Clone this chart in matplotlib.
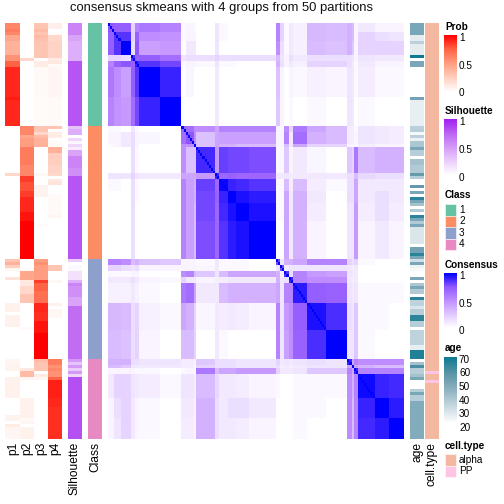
import numpy as np
import matplotlib
matplotlib.use("Agg")
import matplotlib.pyplot as plt
from matplotlib.colors import LinearSegmentedColormap, ListedColormap

plt.rcParams['font.family'] = ['Liberation Sans', 'DejaVu Sans']

title = "consensus skmeans with 4 groups from 50 partitions"
group_sizes = [35, 45, 34, 27]
class_colors = ["#66C2A5", "#FC8D62", "#8DA0CB", "#E78AC3"]
type_colors = ["#F4B79F", "#FFC4E4"]
type_labels = ["alpha", "PP"]

p1 = [.6,.6,.65,.6,.45,.45,.4,.4,.4,.4,.4,.55,.55,.75,.75]+[.9]*10+[.93]+[.9]*9 \
   + [0]*16+[.2]+[0]*28 \
   + [.3,.4,.25,.05,0,0,.15]+[0]*8+[.07,.07,.07,0,.07,.07,.07,.07]+[0]*11 \
   + [.05,.05,.06,.06,0,0,.07,.07,.07,.07,.07,.07,.07]+[0]*6+[.06,.06,0,.1,.05,.05,.05,.05]
p2 = [0]*12+[.2]+[0]*22 \
   + [.6,.6,.6,.45,.5,.5,.5,.65,.65,.65,.65,.65,.65,.6,.6,.6,.6,.85,.85,.8,.8,.8,.85,.85,.9,.9,.9,.9,.9,.95,.95,.95]+[1]*13 \
   + [0,0,0,.02,.45,.45,.45,.12,.12,.2,.2,.2,.3,.3,.3]+[0]*8+[.03]+[0]*10 \
   + [0,0,0,.12,.35,.35,.05]+[0]*6+[.07]*7+[.03,.05,0,.07,.07,.07,.07]
p3 = [.3,.3,.35,.3,.35,.32,.3,.3,.3,.3,.3,.3,0,.1,.1]+[.03]*10+[.02]*10 \
   + [.3,.3,.2,.35,.4,.4,.4]+[0]*9+[.04,0,0,0,.06,.06,.06,.06]+[0]*9+[.02]+[0]*11 \
   + [.5,.55,.5,.5,.5,.5,.5,.85,.75,.75,.75,.7,.7,.7,.7,.9,.9,.9,.88,.88,.88,.95,.95,.95,.95]+[1]*9 \
   + [.35,.3,.3,.3,0,.1,.05]+[0]*20
p4 = [.08,.08,0,.02,.2,.2,.22,.22,.22,.22,.22,.22,.1,.12,.03]+[.05]*10+[.03]*10 \
   + [.3,0,.1,.1,0,.02,.02,.4,.4,.25,.25,.25,.25,.22,.22,.22,.2,0,.12,.15,0,0,0,.03,.03,.03,.03,.03,.03,.03,.05]+[0]*14 \
   + [0,0,.3,.3,0,0,0,.04]+[0]*7+[.07,0,.04,.04,.04]+[0]*14 \
   + [.65,.65,.55,.6,.55,.55,.75,.92,.92,.92,.92,.92,.92,.9,.9,.9]+[.88]*11
sil = [.6,.6,.6,.6,.45,.45,.4,.4,.4,.4,.4,.4,.4,.8,.8]+[.8]*20 \
   + [.3,.4,.4,0,.2,.05,.2,.1,.45,.45,.6,.6,.6,.6,.55,.55,.55]+[.8]*28 \
   + [.25,0,.03,.03,.15,.15,.15,.4,.6,.55,.55,.55,.55,.45,.45,.45]+[.7]*18 \
   + [.5,.3,.5,.25,.5,.2]+[.82]*21
age = [50,50,50,50,26,26,35,26,26,26,26,70,20,50,50]+[20]*10+[52]+[25]*9 \
   + [35,36,22,35,24,38,38,50,36,36,20,40,40,37,37,37,55,36,20,20,55,20,50,20,65,50,40,20,37,20,65,50,37,50,28,28,28,28,28,28,20,52,52,65,50] \
   + [30,50,24,22,20,20,50,20,38,50,37,37,20,65,34,34,28,36,36,65,65,36,36,20,34,34,34,34,34,25,25,67,67,67] \
   + [20,40,60,36,36,40,50,20,20,20,36,50,36,36]+[48]*13
cell_type = [0]*35+[0]*45+[0]*34+[0,0,0,0,1,0,0,1]+[0]*19

seg_sizes = [3,3,5,2,2,10,10, 2,4,1,9,2,4,4,6,13, 2,2,2,2,7,9,10, 2,1,2,8,7,7]
seg_upper = [
 [.75,.72,.72,.2,.55,.6,.55, .03,.05,.03,0,.12,.03,0,0,0, .55,.2,.03,.1,.07,.32,.3, .35,.3,.05,.1,.05,.05],
 [.85,.85,.2,.7,.5,.48, .03,.05,.05,0,.12,.03,0,0,0, .55,.2,.03,.1,.07,.32,.3, .35,.3,.05,.2,.15,.12],
 [1,.15,.75,.42,.45, 0,.1,.1,0,.12,0,0,0,0, .5,.15,.03,.1,.07,.3,.28, .35,.25,.05,.2,.2,.2],
 [.85,.7,.72,.65, .12,.15,.15,.15,.2,.15,.15,.15,.15, .3,.12,.05,.15,.1,.15,.15, .15,.12,.05,.12,.1,.1],
 [.9,.85,.8, .03,.05,.05,.03,.12,.03,.03,0,0, .35,.15,.05,.1,.07,.2,.2, .15,.1,.03,.1,.05,.05],
 [1,.9, 0,.04,0,0,.1,0,0,0,0, .28,.05,0,.05,.03,.07,.05, .12,.1,.03,.08,.03,.03],
 [1, 0,0,0,0,.1,0,0,0,0, .25,.05,0,.03,0,.03,0, .12,.1,0,.03,0,0],
 [.7,.65,.5,.5,.4,.55,.55,.55,.55, .05,.05,.5,.2,.6,.4,.3, .08,.08,.03,.12,.1,.08],
 [.75,.5,.28,.4,.42,.42,.42,.42, .05,.05,.55,.1,.65,.35,.3, .08,.08,.05,.12,.1,.08],
 [.8,.28,.4,.35,.35,.3,.3, .05,.05,.3,.1,.4,.2,.2, .05,.05,.03,.08,.05,.05],
 [.88,.45,.82,.8,.8,.78, .03,.04,.25,.05,.1,.04,0, .25,.2,.6,.3,.35,.35],
 [.9,.68,.7,.68,.68, .1,.1,.12,.08,.1,.1,.1, .15,.15,.3,.18,.15,.15],
 [.98,.9,.88,.85, .03,.03,.3,.08,.3,.08,.03, .15,.15,.4,.1,.1,.1],
 [1,.95,.92, .03,.03,.4,.1,.35,.1,0, .15,.15,.4,.1,.15,.1],
 [1,.95, .03,.03,.4,.1,.35,.08,0, .12,.12,.45,.08,.15,.08],
 [1, 0,0,.4,.1,.35,.05,0, .12,.12,.45,.05,.1,.05],
 [.8,.12,.35,.35,.4,.55,.55, .2,.15,.2,.03,0,0],
 [.8,.08,.12,.12,.12,.12, .1,.08,.1,0,0,0],
 [.85,.15,.55,.45,.42, .12,.1,.1,0,0,0],
 [.9,.55,.5,.5, .1,.08,.1,0,0,0],
 [.92,.72,.7, .12,.1,.12,.03,.03,.03],
 [.95,.87, .15,.12,.25,.03,.03,0],
 [1, .12,.12,.25,.03,0,0],
 [.9,.4,.55,.5,.5,.5],
 [.85,.4,.35,.3,.3],
 [.9,.55,.55,.55],
 [.97,.9,.88],
 [1,.92],
 [1],
]

n = sum(group_sizes)
for name, col in [("p1",p1),("p2",p2),("p3",p3),("p4",p4),("sil",sil),("age",age),("type",cell_type)]:
    assert len(col) == n, (name, len(col))

S = np.zeros((len(seg_sizes), len(seg_sizes)))
for i, row in enumerate(seg_upper):
    S[i, i:] = row
    S[i:, i] = row
idx = np.repeat(np.arange(len(seg_sizes)), seg_sizes)
M = S[np.ix_(idx, idx)]
np.fill_diagonal(M, 1.0)

cm_prob = LinearSegmentedColormap.from_list("prob", ["#FFFFFF", "#FFCFBF", "#FF9E81", "#FF6546", "#FF0000"])
cm_sil = LinearSegmentedColormap.from_list("sil", ["#FFFFFF", "#EBCDFB", "#D59AF8", "#BC63F4", "#A020F0"])
cm_cons = LinearSegmentedColormap.from_list("cons", ["#FFFFFF", "#E0C8FF", "#C08EFF", "#9058FF", "#0000FF"])
cm_age = LinearSegmentedColormap.from_list("age", ["#FFFFFF", "#C6D8E0", "#8FB3C2", "#5C95A8", "#0E7A91"])

W = H = 504
fig = plt.figure(figsize=(7, 7), dpi=72)

def ax_px(x0, y0, x1, y1):
    ax = fig.add_axes([x0 / W, 1 - y1 / H, (x1 - x0) / W, (y1 - y0) / H])
    ax.set_axis_off()
    return ax

TOP, BOT = 23, 439
def column(x0, x1, vals, cmap, vmin=0, vmax=1):
    ax = ax_px(x0, TOP, x1, BOT)
    ax.imshow(np.asarray(vals, float)[:, None], cmap=cmap, vmin=vmin, vmax=vmax,
              aspect='auto', interpolation='nearest')

for (x0, x1), col in zip([(5, 20), (20, 34), (34, 48), (48, 62)], [p1, p2, p3, p4]):
    column(x0, x1, col, cm_prob)
column(68, 82, sil, cm_sil)
classes = np.repeat(np.arange(4), group_sizes)
column(88, 102, classes, ListedColormap(class_colors), 0, 3)
ax = ax_px(108, TOP, 404, BOT)
ax.imshow(M, cmap=cm_cons, vmin=0, vmax=1, aspect='auto', interpolation='nearest')
column(410, 424, age, cm_age, 20, 70)
column(425, 439, cell_type, ListedColormap(type_colors), 0, 1)

tx = fig.add_axes([0, 0, 1, 1])
tx.set_xlim(0, W); tx.set_ylim(H, 0); tx.set_axis_off(); tx.patch.set_alpha(0)

tx.text(221.5, 8.5, title, fontsize=13, ha='center', va='center', color='#111111')
for xc, lab in [(13, "p1"), (27, "p2"), (41, "p3"), (55, "p4"), (75, "Silhouette"), (95, "Class"), (417, "age"), (432, "cell.type")]:
    tx.text(xc, 442, lab, rotation=90, fontsize=12, ha='center', va='top')

def ltitle(y, s):
    tx.text(445, y, s, fontsize=10, fontweight='bold', ha='left', va='center')

def lbar(y0, y1, cmap, labels, ys, ticks):
    a = ax_px(444, y0, 457, y1)
    a.imshow(np.linspace(1, 0, 100)[:, None], cmap=cmap, vmin=0, vmax=1, aspect='auto')
    for t in ticks:
        tx.plot([444, 447], [t, t], color='white', lw=0.7, ls=(0, (2, 1)), zorder=5)
        tx.plot([454, 457], [t, t], color='white', lw=0.7, ls=(0, (2, 1)), zorder=5)
    for lab, y in zip(labels, ys):
        tx.text(459, y, lab, fontsize=10, ha='left', va='center')

ltitle(27, "Prob")
lbar(35, 92, cm_prob, ["1", "0.5", "0"], [38, 66, 93.5], [37, 65, 91])
ltitle(111, "Silhouette")
lbar(119, 175, cm_sil, ["1", "0.5", "0"], [122, 150, 178], [121, 149, 175])
ltitle(195, "Class")
for i, c in enumerate(class_colors):
    y = 204 + i * 11.5
    tx.add_patch(plt.Rectangle((445, y), 11, 11.5, fc=c, ec='white', lw=0.5, zorder=3))
    tx.text(459, y + 5.7, str(i + 1), fontsize=10, ha='left', va='center')
ltitle(265, "Consensus")
lbar(273, 328, cm_cons, ["1", "0.5", "0"], [276, 304, 331], [275, 303, 328])
ltitle(348, "age")
a = ax_px(444, 357, 457, 423)
a.imshow(np.linspace(70, 20, 100)[:, None], cmap=cm_age, vmin=20, vmax=70, aspect='auto')
for lab, y in zip(["70", "60", "50", "40", "30", "20"], [360, 373.5, 387, 401, 414, 428]):
    tx.text(459, y, lab, fontsize=10, ha='left', va='center')
for t in [373, 386, 400, 413]:
    tx.plot([444, 447], [t, t], color='white', lw=0.7, ls=(0, (2, 1)), zorder=5)
    tx.plot([454, 457], [t, t], color='white', lw=0.7, ls=(0, (2, 1)), zorder=5)
ltitle(446, "cell.type")
for i, (c, lab) in enumerate(zip(type_colors, type_labels)):
    y = 454 + i * 11.5
    tx.add_patch(plt.Rectangle((445, y), 11, 11.5, fc=c, ec='white', lw=0.5, zorder=3))
    tx.text(459, y + 6, lab, fontsize=10, ha='left', va='center')

fig.savefig("out.png", dpi=72)
